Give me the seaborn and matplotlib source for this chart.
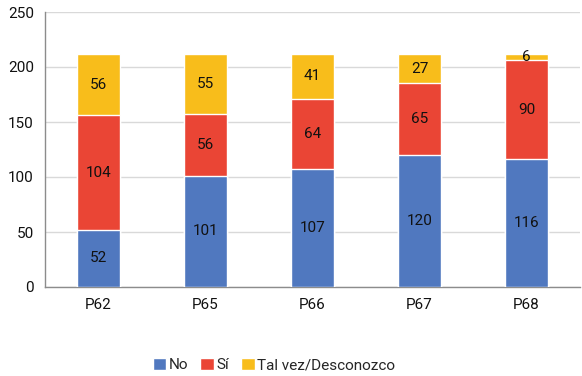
import matplotlib
matplotlib.use("Agg")
import matplotlib.pyplot as plt
import seaborn as sns
import pandas as pd
import numpy as np

categories = ["P62", "P65", "P66", "P67", "P68"]
no_vals = [52, 101, 107, 120, 116]
si_vals = [104, 56, 64, 65, 90]
tal_vals = [56, 55, 41, 27, 6]
series_names = ["No", "Sí", "Tal vez/Desconozco"]
colors = ["#5078BF", "#EA4535", "#F8BD1B"]

sns.set_theme(style="white")
plt.rcParams['font.family'] = ['Roboto', 'DejaVu Sans']

fig = plt.figure(figsize=(5.82, 3.76), dpi=100)
ax = fig.add_axes([45/582, 89/376, 535/582, 275/376])

series = [no_vals, si_vals, tal_vals]
cums = np.cumsum(np.array(series), axis=0)

# draw cumulative totals, back (top segment) to front
for k in range(len(series) - 1, -1, -1):
    d = pd.DataFrame({"cat": categories, "val": cums[k]})
    sns.barplot(data=d, x="cat", y="val", color=colors[k], saturation=1,
                width=0.4, label=series_names[k], ax=ax, zorder=3)

for k, vals in enumerate(series):
    base = cums[k] - np.array(vals)
    for i, v in enumerate(vals):
        ax.text(i, base[i] + v / 2, str(v), ha="center", va="center",
                fontsize=11, color="#111111", zorder=5)

sns.despine(ax=ax, top=True, right=True)
ax.set_xlim(-0.5, 4.5)
ax.set_ylim(0, 250)
ax.set_yticks([0, 50, 100, 150, 200, 250])
ax.set_xlabel("")
ax.set_ylabel("")
ax.tick_params(axis="both", labelsize=11, colors="#111111", length=0, pad=8)
ax.yaxis.grid(True, color="#D9D9D9", linewidth=1, zorder=0)
ax.set_axisbelow(True)
for s in ["left", "bottom"]:
    ax.spines[s].set_color("#8C8C8C")
    ax.spines[s].set_linewidth(1)

handles, labels = ax.get_legend_handles_labels()
order = [labels.index(n) for n in series_names]
ax.legend([handles[i] for i in order], [labels[i] for i in order],
          loc="center", bbox_to_anchor=(274/582, 11/376), bbox_transform=fig.transFigure,
          ncol=3, frameon=False, fontsize=11, handlelength=0.9, handleheight=0.9,
          handletextpad=0.15, columnspacing=0.8, borderaxespad=0, borderpad=0)

fig.savefig("out.png", dpi=100)
